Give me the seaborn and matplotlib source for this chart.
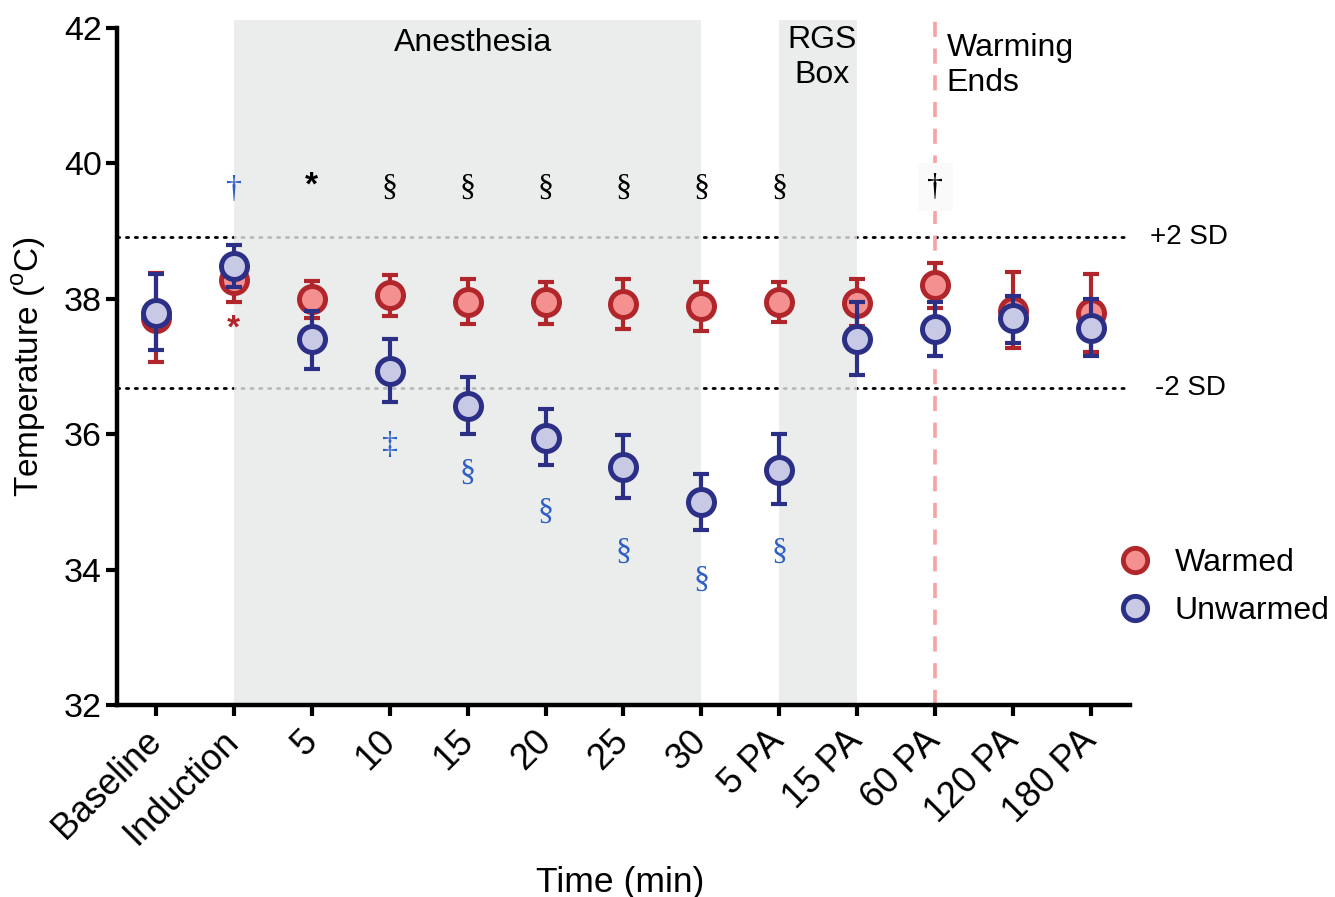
import numpy as np
import pandas as pd
import matplotlib
matplotlib.use("Agg")
import matplotlib.pyplot as plt
import matplotlib.transforms as mtransforms
from matplotlib.lines import Line2D
import seaborn as sns

# ---------------- data ----------------
categories = ["Baseline", "Induction", "5", "10", "15", "20", "25", "30",
              "5 PA", "15 PA", "60 PA", "120 PA", "180 PA"]

warmed_mean = [37.72, 38.28, 37.99, 38.06, 37.96, 37.96, 37.93, 37.90,
               37.96, 37.94, 38.21, 37.82, 37.79]
warmed_low = [37.07, 37.96, 37.72, 37.75, 37.63, 37.63, 37.56, 37.53,
              37.66, 37.60, 37.87, 37.28, 37.21]
warmed_high = [38.38, 38.60, 38.26, 38.35, 38.29, 38.25, 38.29, 38.25,
               38.25, 38.29, 38.53, 38.40, 38.37]

unwarmed_mean = [37.79, 38.49, 37.40, 36.93, 36.42, 35.95, 35.51, 35.00,
                 35.47, 37.41, 37.56, 37.72, 37.57]
unwarmed_low = [37.24, 38.18, 36.96, 36.47, 36.01, 35.54, 35.06, 34.59,
                34.97, 36.87, 37.16, 37.35, 37.16]
unwarmed_high = [38.37, 38.79, 37.82, 37.41, 36.85, 36.37, 35.99, 35.41,
                 36.00, 37.96, 37.96, 38.04, 37.99]

sd_plus = 38.91
sd_minus = 36.68

shaded_spans = [("Induction", "30", "Anesthesia"), ("5 PA", "15 PA", "RGS\nBox")]
warming_end = "60 PA"

# significance symbols: (category, y, symbol, colour)
top_symbols = [("Induction", 39.62, "\u2020", "#2d5fc4"),
               ("5", 39.66, "*", "black"),
               ("10", 39.63, "\u00a7", "black"),
               ("15", 39.63, "\u00a7", "black"),
               ("20", 39.63, "\u00a7", "black"),
               ("25", 39.63, "\u00a7", "black"),
               ("30", 39.63, "\u00a7", "black"),
               ("5 PA", 39.63, "\u00a7", "black"),
               ("60 PA", 39.65, "\u2020", "black")]
bottom_symbols = [("Induction", 37.56, "*", "#b0262b"),
                  ("10", 35.84, "\u2021", "#2d5fc4"),
                  ("15", 35.43, "\u00a7", "#2d5fc4"),
                  ("20", 34.84, "\u00a7", "#2d5fc4"),
                  ("25", 34.25, "\u00a7", "#2d5fc4"),
                  ("30", 33.84, "\u00a7", "#2d5fc4"),
                  ("5 PA", 34.25, "\u00a7", "#2d5fc4")]

# ---------------- style ----------------
sns.set_theme(style="ticks")
plt.rcParams["font.family"] = ["Liberation Sans", "DejaVu Sans"]
plt.rcParams["mathtext.fontset"] = "custom"
plt.rcParams["mathtext.rm"] = "Liberation Sans"
for k in ("text.color", "axes.labelcolor", "xtick.color", "ytick.color",
          "axes.edgecolor"):
    plt.rcParams[k] = "black"

red_edge, red_fill = "#b0262b", "#f4908f"
blue_edge, blue_fill = "#2b2f86", "#c8c9e4"

fig = plt.figure(figsize=(13.35, 8.97), dpi=100)
ax = fig.add_axes([0.0876, 0.214, 0.7588, 0.7548])

xpos = {c: i for i, c in enumerate(categories)}
x = np.arange(len(categories))

df = pd.DataFrame({
    "x": np.concatenate([x, x]),
    "temp": warmed_mean + unwarmed_mean,
    "group": ["Warmed"] * len(x) + ["Unwarmed"] * len(x),
})

# shaded regions + dotted SD lines
label_off = {"Anesthesia": (0.07, 42.0), "RGS\nBox": (0.05, 42.04)}
for a, b, lab in shaded_spans:
    ax.axvspan(xpos[a], xpos[b], ymin=0, ymax=1.012, color="#e7e9e8",
               alpha=0.8, lw=0, zorder=1.5, clip_on=False)
    dx, ty = label_off[lab]
    ax.text((xpos[a] + xpos[b]) / 2 + dx, ty, lab,
            ha="center", va="top", fontsize=23, zorder=8, linespacing=1.22)

for yv in (sd_plus, sd_minus):
    ax.axhline(yv, color="black", lw=2.0, ls=(0, (0.8, 2.4)), zorder=1,
               dash_capstyle="round")
trans = mtransforms.blended_transform_factory(ax.transAxes, ax.transData)
ax.text(1.02, sd_plus, "+2 SD", transform=trans, va="center", ha="left", fontsize=20)
ax.text(1.025, sd_minus, "-2 SD", transform=trans, va="center", ha="left", fontsize=20)

ax.axvline(xpos[warming_end], ymin=0, ymax=1.016, color="#f5a3a3", lw=2.6,
           dashes=(4.2, 3.2), zorder=2, clip_on=False)
ax.text(xpos[warming_end] + 0.15, 41.93, "Warming\nEnds", ha="left", va="top",
        fontsize=23, linespacing=1.22)

# error bars and markers
series = [("Warmed", warmed_mean, warmed_low, warmed_high, red_edge, red_fill, 3),
          ("Unwarmed", unwarmed_mean, unwarmed_low, unwarmed_high, blue_edge, blue_fill, 5)]
for name, m, lo, hi, ec, fc, z in series:
    m = np.array(m); lo = np.array(lo); hi = np.array(hi)
    ax.errorbar(x, m, yerr=[m - lo, hi - m], fmt="none", ecolor=ec,
                elinewidth=3.0, capsize=6.0, capthick=3.0, zorder=z)
    sns.scatterplot(data=df[df.group == name], x="x", y="temp", ax=ax,
                    s=350, color=fc, edgecolor=ec, linewidth=3.6,
                    zorder=z + 1, legend=False)

# symbols
for cat, yv, sym, col in top_symbols + bottom_symbols:
    if sym == "*":
        ax.text(xpos[cat], yv, sym, ha="center", va="center", fontsize=24,
                color=col, fontweight="bold", zorder=9)
    else:
        kw = {}
        if cat == "60 PA":
            kw["bbox"] = dict(boxstyle="square,pad=0.3", fc="#fafafa", ec="none")
        ax.text(xpos[cat], yv, sym, ha="center", va="center", fontsize=23,
                color=col, family=["Liberation Serif", "DejaVu Serif"], zorder=9, **kw)

# axes formatting
ax.set_xlim(-0.5, len(categories) - 0.5)
ax.set_ylim(32, 42)
ax.set_yticks([32, 34, 36, 38, 40, 42])
ax.set_xticks(x)
ax.set_xticklabels(categories, rotation=45, ha="right", va="center",
                   rotation_mode="anchor")
ax.tick_params(axis="y", labelsize=24.5, width=3, length=8, color="black",
               direction="out", pad=3)
ax.tick_params(axis="x", labelsize=26, width=3, length=8, color="black",
               direction="out", pad=14)
for s in ("top", "right"):
    ax.spines[s].set_visible(False)
for s in ("left", "bottom"):
    ax.spines[s].set_linewidth(3.2)
    ax.spines[s].set_color("black")
ax.set_facecolor("white")

ax.set_xlabel("Time (min)", fontsize=25.5)
ax.xaxis.set_label_coords(0.497, -0.238)
ax.set_ylabel("Temperature ($^{\\mathrm{o}}$C)", fontsize=24)
ax.yaxis.set_label_coords(-0.068, 0.5)

handles = [Line2D([], [], ls="none", marker="o", ms=17.5, mfc=red_fill, mec=red_edge, mew=3.5),
           Line2D([], [], ls="none", marker="o", ms=17.5, mfc=blue_fill, mec=blue_edge, mew=3.5)]
fig.legend(handles, ["Warmed", "Unwarmed"], loc="center left",
           bbox_to_anchor=(1119 / 1335, 1 - 587 / 897), frameon=False,
           fontsize=23, handlelength=1.0, handletextpad=0.75, labelspacing=0.58,
           borderpad=0, borderaxespad=0)

fig.savefig("out.png", dpi=100, facecolor="white")
